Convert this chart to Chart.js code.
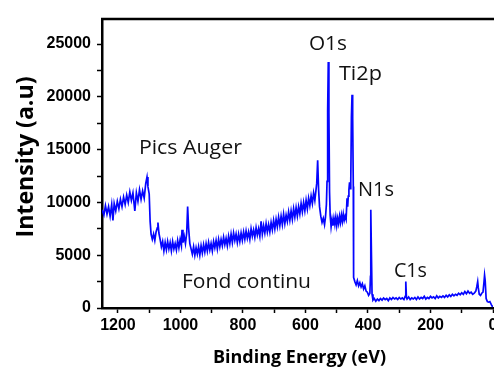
<!DOCTYPE html>
<html>
<head>
<meta charset="utf-8">
<title>XPS survey spectrum</title>
<script src="https://cdn.jsdelivr.net/npm/chart.js@4/dist/chart.umd.min.js"></script>
<style>
  html, body { margin: 0; padding: 0; background: #ffffff; }
  canvas { display: block; }
</style>
</head>
<body>
<canvas id="xps" width="494" height="370"></canvas>
<script>
// Survey spectrum: binding energy (eV) and measured intensity (a.u.)
const bindingEnergy = [
  1251, 1245, 1240, 1235, 1230, 1225, 1220, 1216, 1212, 1207, 1202, 1197, 1192, 1187, 1182, 1177,
  1172, 1167, 1162, 1157, 1152, 1146, 1141, 1136, 1131, 1126, 1121, 1116, 1111, 1107, 1104, 1100,
  1097, 1094, 1090, 1086, 1082, 1078, 1074, 1072, 1069, 1065, 1061, 1057, 1053, 1049, 1045, 1041,
  1037, 1033, 1029, 1025, 1021, 1017, 1013, 1009, 1005, 1001, 997, 995, 992, 988, 984, 980,
  977, 974, 970, 966, 962, 958, 954, 950, 946, 942, 938, 934, 930, 926, 922, 918,
  914, 910, 906, 902, 898, 894, 890, 886, 882, 878, 874, 870, 866, 862, 858, 854,
  850, 846, 842, 838, 834, 830, 826, 822, 818, 814, 810, 806, 802, 798, 794, 790,
  786, 782, 778, 774, 770, 766, 762, 758, 754, 750, 746, 742, 738, 734, 730, 726,
  722, 718, 714, 710, 706, 702, 698, 694, 690, 686, 682, 678, 674, 670, 666, 662,
  658, 654, 650, 646, 642, 638, 634, 630, 626, 622, 618, 614, 610, 606, 602, 598,
  594, 590, 586, 582, 578, 574, 570, 567, 564, 561, 558, 555, 551, 547, 543, 539,
  536, 533, 531, 529, 527, 525, 523, 521, 518, 515, 512, 509, 506, 503, 500, 497,
  494, 491, 488, 485, 482, 479, 476, 473, 470, 467, 465, 463, 461, 459, 457, 455,
  453, 451, 449, 447, 446, 442, 438, 434, 430, 426, 422, 418, 414, 410, 406, 402,
  398, 394, 392, 391, 389, 387, 384, 380, 375, 370, 365, 360, 355, 350, 345, 340,
  335, 330, 325, 320, 315, 310, 305, 300, 295, 290, 285, 281, 279, 277, 275, 270,
  265, 260, 255, 250, 245, 240, 235, 230, 225, 220, 215, 210, 205, 200, 195, 190,
  185, 180, 175, 170, 165, 160, 155, 150, 145, 140, 135, 130, 125, 120, 115, 110,
  105, 100, 95, 90, 85, 80, 75, 70, 65, 60, 55, 52, 49, 47, 44, 40,
  36, 32, 29, 27, 25, 22, 18, 14, 10, 5, 1
];

const intensity = [
  9300, 8800, 9700, 8900, 9600, 8700, 9800, 8300, 9900, 9200, 10100, 9400, 10300, 9600, 10500, 9800,
  10700, 10000, 11000, 10200, 10900, 9200, 10900, 10100, 11200, 10300, 11100, 10400, 11800, 12400, 11500, 10800,
  8200, 7000, 6500, 7000, 6400, 7200, 7600, 8100, 7100, 6500, 5800, 6300, 5400, 6200, 5500, 6300,
  5600, 6200, 5400, 6300, 5600, 6100, 5500, 6400, 5700, 6500, 5900, 7400, 6200, 6800, 6100, 7100,
  9600, 7600, 6100, 5600, 5100, 5800, 5000, 5700, 5100, 5800, 5000, 5900, 5200, 6000, 5300, 6100,
  5400, 6200, 5500, 6100, 5400, 6300, 5700, 6400, 5600, 6500, 5800, 6500, 5900, 6700, 6000, 6600,
  5900, 6800, 6100, 7000, 6200, 7100, 6400, 7000, 6200, 7000, 6300, 7100, 6400, 7200, 6500, 7300,
  6600, 7200, 6500, 7500, 6800, 7400, 6700, 7600, 6900, 7500, 6800, 8200, 7000, 7800, 7100, 8000,
  7200, 7900, 7200, 8100, 7400, 8300, 7500, 8400, 7700, 8600, 7800, 8700, 7900, 8900, 8000, 8800,
  8200, 9100, 8300, 9200, 8400, 9400, 8600, 9500, 8700, 9600, 8900, 9900, 9100, 10000, 9200, 10200,
  9400, 10400, 9700, 10600, 9900, 10900, 10200, 11000, 11800, 14000, 11200, 9600, 8700, 8100, 8500, 7900,
  8600, 9800, 12000, 18700, 23300, 18500, 11000, 8800, 7700, 8400, 7800, 8500, 7900, 8600, 7800, 8500,
  8000, 8700, 8100, 8800, 8200, 8900, 8300, 8700, 8400, 10400, 9600, 10600, 11200, 11900, 11300, 12200,
  18100, 20200, 18000, 11500, 2900, 2500, 2200, 2600, 2100, 2400, 2000, 2300, 1800, 2100, 1600, 1500,
  1200, 1400, 3000, 9300, 5200, 1300, 750, 900, 650, 850, 700, 900, 750, 950, 800, 900,
  700, 950, 800, 1000, 850, 950, 800, 1000, 850, 950, 800, 1100, 2500, 1000, 850, 1050,
  800, 950, 850, 1000, 800, 1050, 850, 1000, 900, 1100, 850, 1000, 900, 1100, 950, 1050,
  900, 1150, 950, 1100, 1000, 1150, 1000, 1200, 1050, 1250, 1100, 1300, 1150, 1300, 1200, 1400,
  1250, 1450, 1300, 1550, 1350, 1600, 1400, 1500, 1300, 1400, 1600, 2000, 2500, 1900, 1300, 1200,
  1400, 1500, 2400, 3100, 2600, 900, 600, 550, 600, 300, 100
];

// Axis ticks (major ticks carry labels, minor ticks sit halfway between)
const energyTicks = [0, 100, 200, 300, 400, 500, 600, 700, 800, 900, 1000, 1100, 1200];
const energyLabelStep = 200;
const intensityTicks = [0, 2500, 5000, 7500, 10000, 12500, 15000, 17500, 20000, 22500, 25000];
const intensityLabelStep = 5000;

// Peak and region annotations, anchored in data units (left edge, text baseline)
const annotations = [
  { text: 'O1s',          energy: 589,  counts: 24430, width: 38 },
  { text: 'Ti2p',         energy: 493,  counts: 21590, width: 43 },
  { text: 'Pics Auger',   energy: 1133, counts: 14580, width: 103 },
  { text: 'N1s',          energy: 432,  counts: 10600, width: 36 },
  { text: 'C1s',          energy: 317,  counts: 2936,  width: 33 },
  { text: 'Fond continu', energy: 995,  counts: 1894,  width: 129 }
];

const points = bindingEnergy.map((e, i) => ({ x: e, y: intensity[i] }));

function drawFitted(ctx, text, x, y, width, font, align) {
  ctx.font = font;
  const natural = ctx.measureText(text).width;
  const k = width / natural;
  ctx.save();
  ctx.translate(x, y);
  ctx.scale(k, 1);
  ctx.textAlign = align || 'left';
  ctx.textBaseline = 'alphabetic';
  ctx.fillText(text, 0, 0);
  ctx.restore();
}

const decorations = {
  id: 'decorations',
  afterDraw(chart) {
    const { ctx, chartArea, scales } = chart;
    ctx.save();
    // top frame line
    ctx.strokeStyle = '#000';
    ctx.lineWidth = 2.5;
    ctx.beginPath();
    ctx.moveTo(chartArea.left - 1, chartArea.top);
    ctx.lineTo(chart.width, chartArea.top);
    ctx.stroke();

    ctx.fillStyle = '#000';
    // axis titles
    ctx.save();
    ctx.translate(33, 157);
    ctx.rotate(-Math.PI / 2);
    drawFitted(ctx, 'Intensity (a.u)', 0, 0, 161, 'bold 24px "Open Sans"', 'center');
    ctx.restore();
    drawFitted(ctx, 'Binding Energy (eV)', 299.5, 363, 173, 'bold 18px "Open Sans"', 'center');

    // annotations
    ctx.fillStyle = '#111';
    annotations.forEach(a => {
      const x = scales.x.getPixelForValue(a.energy);
      const y = scales.y.getPixelForValue(a.counts);
      drawFitted(ctx, a.text, x, y, a.width, '20px "Open Sans"', 'left');
    });
    ctx.restore();
  }
};

const tickFont = { family: '"Liberation Sans", Arial, sans-serif', size: 16, weight: 'bold' };

new Chart(document.getElementById('xps'), {
  type: 'line',
  data: {
    datasets: [{
      data: points,
      borderColor: '#0505ff',
      borderWidth: 1.7,
      pointRadius: 0,
      tension: 0,
      fill: false
    }]
  },
  options: {
    responsive: false,
    animation: false,
    parsing: false,
    layout: { padding: { left: 0, right: 1, top: 19, bottom: 0 } },
    plugins: { legend: { display: false }, tooltip: { enabled: false } },
    scales: {
      x: {
        type: 'linear',
        reverse: true,
        min: 0,
        max: 1251,
        afterBuildTicks: s => { s.ticks = energyTicks.map(v => ({ value: v })); },
        afterFit: s => { s.height = 62; s.paddingLeft = 0; s.paddingRight = 0; },
        ticks: {
          autoSkip: false,
          maxRotation: 0,
          padding: 3,
          color: '#000',
          font: tickFont,
          callback: v => (v % energyLabelStep === 0 ? String(v) : '')
        },
        grid: { drawOnChartArea: false, drawTicks: true, tickLength: 5, tickColor: '#000', tickWidth: 1.5 },
        border: { display: true, color: '#000', width: 2.5 }
      },
      y: {
        type: 'linear',
        min: 0,
        max: 27370,
        afterBuildTicks: s => { s.ticks = intensityTicks.map(v => ({ value: v })); },
        afterFit: s => { s.width = 102; s.paddingTop = 0; s.paddingBottom = 0; },
        ticks: {
          autoSkip: false,
          padding: 6,
          color: '#000',
          font: tickFont,
          callback: v => (v % intensityLabelStep === 0 ? String(v) : '')
        },
        grid: { drawOnChartArea: false, drawTicks: true, tickLength: 5, tickColor: '#000', tickWidth: 1.5 },
        border: { display: true, color: '#000', width: 2.5 }
      }
    }
  },
  plugins: [decorations]
});
</script>
</body>
</html>
